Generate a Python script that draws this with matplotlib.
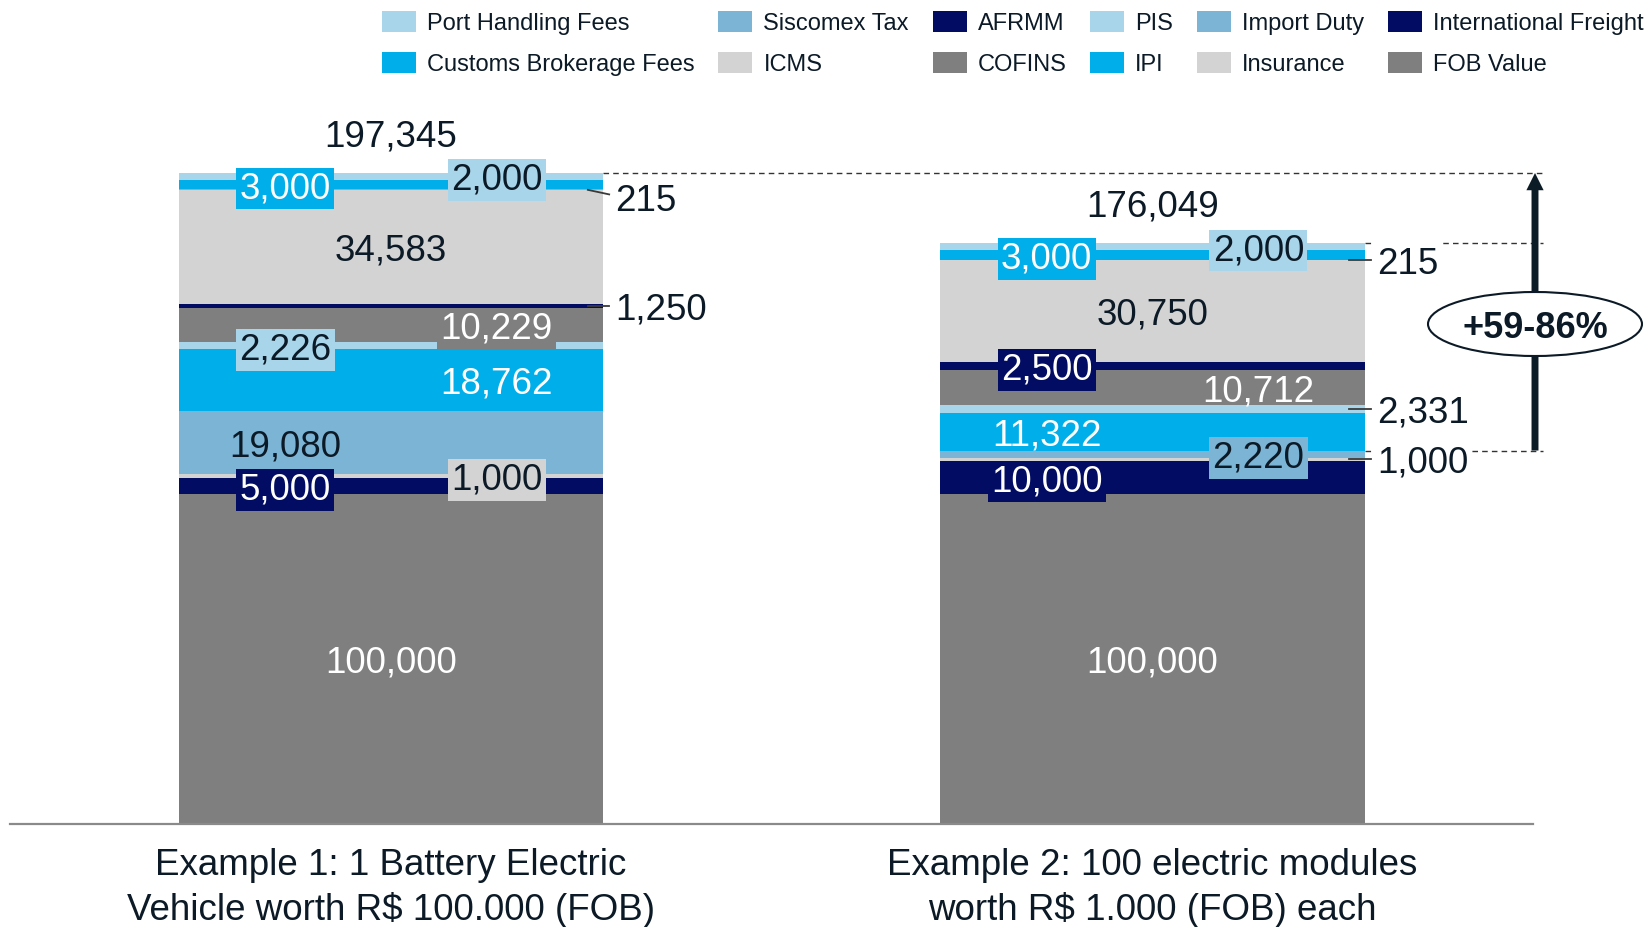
import matplotlib
matplotlib.use("Agg")
import matplotlib.pyplot as plt
from matplotlib.patches import Patch, Ellipse
import numpy as np

plt.rcParams['font.family'] = ['Liberation Sans', 'DejaVu Sans']

## Data
CATEGORIES = ["Example 1: 1 Battery Electric\nVehicle worth R$ 100.000 (FOB)",
              "Example 2: 100 electric modules\nworth R$ 1.000 (FOB) each"]
COMPONENTS = ["FOB Value", "International Freight", "Insurance", "Import Duty", "IPI", "PIS",
              "COFINS", "AFRMM", "ICMS", "Siscomex Tax", "Customs Brokerage Fees",
              "Port Handling Fees"]
EX1 = [100000, 5000, 1000, 19080, 18762, 2226, 10229, 1250, 34583, 215, 3000, 2000]
EX2 = [100000, 10000, 1000, 2220, 11322, 2331, 10712, 2500, 30750, 215, 3000, 2000]
TOTALS = ["197,345", "176,049"]
BADGE = "+59-86%"

## Style
GRAY = "#7f7f7f"
NAVY = "#020c62"
LGRAY = "#d3d3d3"
MBLUE = "#7bb4d4"
CYAN = "#00aeea"
LBLUE = "#a9d5ea"
COLORS = [GRAY, NAVY, LGRAY, MBLUE, CYAN, LBLUE, GRAY, NAVY, LGRAY, MBLUE, CYAN, LBLUE]
DARK = {GRAY, NAVY, CYAN}
INK = "#0b1a26"
FS = 26.5
W = 0.557
COL = 0.139
BOX_BELOW = 10500

# c = centre, l = left column, r = right column, o = outside with leader line
PLACES = [
    ['c', 'l', 'r', 'l', 'r', 'l', 'r', 'o', 'c', 'o', 'l', 'r'],
    ['c', 'l', 'o', 'r', 'l', 'o', 'r', 'l', 'c', 'o', 'l', 'r'],
]
OUT_DY = {(0, 9): -2300}

fig = plt.figure(figsize=(16.52, 9.27), dpi=100)
ax = fig.add_axes([10.25 / 1652, 103 / 927, 1523 / 1652, 824 / 927])
ax.set_xlim(-0.5, 1.5)
ax.set_ylim(0, 249790)

for i, vals in enumerate([EX1, EX2]):
    vals = np.array(vals)
    bottoms = np.concatenate([[0], np.cumsum(vals)[:-1]])
    ax.bar(i, vals, width=W, bottom=bottoms, color=COLORS, linewidth=0, zorder=2)
    xr = i + W / 2
    for j, (v, b) in enumerate(zip(vals, bottoms)):
        pos = PLACES[i][j]
        y = b + v / 2
        txt = f"{v:,}"
        if pos == 'o':
            dy = OUT_DY.get((i, j), 0)
            ax.plot([xr - 0.02, xr + 0.008], [y, y + dy * 0.6], color="#3a3a3a",
                    lw=1.3, zorder=3, clip_on=False)
            ax.text(xr + 0.016, y + dy, txt, ha='left', va='center_baseline',
                    fontsize=FS, color=INK, zorder=4,
                    bbox=dict(boxstyle='square,pad=0.12', fc='white', ec='none'))
            continue
        x = i + {'c': 0, 'l': -COL, 'r': COL}[pos]
        tc = 'white' if COLORS[j] in DARK else INK
        bb = None
        if v < BOX_BELOW:
            bb = dict(boxstyle='square,pad=0.09', fc=COLORS[j], ec='none')
        ax.text(x, y, txt, ha='center', va='center_baseline', fontsize=FS, color=tc,
                zorder=4, bbox=bb)
    ax.text(i, vals.sum() + 12200, TOTALS[i], ha='center', va='center_baseline',
            fontsize=FS, color=INK)

# reference lines and growth badge
tot1 = sum(EX1)
tot2 = sum(EX2)
low2 = sum(EX2[:4])
xa = 1.5023
yb = 151570
for xs, yv in [(W / 2, tot1), (1 + W / 2, tot2), (1 + W / 2, low2)]:
    ax.plot([xs, 1.5128], [yv, yv], color="#333333", lw=1.0,
            linestyle=(0, (4, 3)), zorder=1, clip_on=False)
ax.annotate('', xy=(xa, tot1), xytext=(xa, low2),
            arrowprops=dict(arrowstyle='simple,head_length=0.62,head_width=0.62,tail_width=0.25',
                            mutation_scale=20, fc="#0c1c26", ec='none', lw=0,
                            shrinkA=0, shrinkB=0),
            annotation_clip=False, zorder=3)
ax.add_patch(Ellipse((xa, yb), 0.281, 19400, fc='white', ec=INK, lw=1.5,
                     zorder=5, clip_on=False))
ax.text(xa, yb, BADGE, ha='center', va='center_baseline', fontsize=26, fontweight='bold',
        color=INK, zorder=6)

# axes styling
for s in ['top', 'right', 'left']:
    ax.spines[s].set_visible(False)
ax.spines['bottom'].set_color("#8a8a8a")
ax.spines['bottom'].set_linewidth(1.6)
ax.set_yticks([])
ax.set_xticks([0, 1], CATEGORIES, fontsize=FS, color=INK, linespacing=1.32)
ax.tick_params(axis='x', length=0, pad=17)

# legend, reversed stack order
handles = [Patch(fc=c, ec='none', label=n) for c, n in zip(COLORS[::-1], COMPONENTS[::-1])]
fig.legend(handles=handles, loc='upper left', bbox_to_anchor=(382 / 1652, 1 - 11 / 927),
           ncol=6, frameon=False, fontsize=17, borderpad=0, borderaxespad=0,
           handlelength=1.44, handleheight=1.0, handletextpad=0.47,
           columnspacing=1.0, labelspacing=0.74, labelcolor=INK)

fig.savefig("out.png", dpi=100)
